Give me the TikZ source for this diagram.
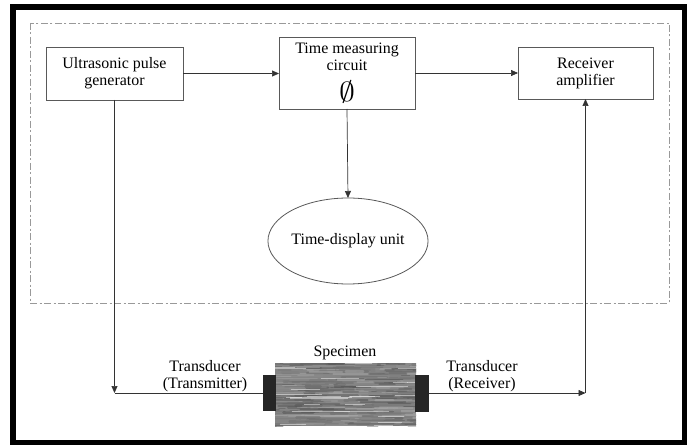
\documentclass[tikz,border=0pt]{standalone}
\usepackage{fontspec}
\setmainfont{Liberation Serif}
\usetikzlibrary{arrows.meta,shapes.geometric}
\begin{document}
\begin{tikzpicture}[x=1bp,y=-1bp,
  every node/.style={font=\fontsize{16}{17}\selectfont, text=black},
  blockbox/.style={draw=black!65, line width=0.8bp, inner sep=0pt, outer sep=0pt, align=center},
  blockpad/.style={fill=black!85, inner sep=0pt, outer sep=0pt},
  conn/.style={draw=black!80, line width=0.7bp},
  arrowtip/.style={-{Triangle[length=7bp,width=6bp]}},
]
\useasboundingbox (0,0) rectangle (690,445);
\fill[white] (0,0) rectangle (690,445);
% outer frame
\draw[line width=5.5bp] (13,7) rectangle (684.5,442.5);
% dashed enclosure
\draw[black!40, line width=0.8bp, dash pattern=on 7bp off 2.5bp on 2bp off 2.5bp] (30,23) rectangle (669,303);

% blocks
\node[blockbox, minimum width=137bp, minimum height=53bp] (gen) at (114.5,73.5) {Ultrasonic pulse\\generator};
\node[blockbox, minimum width=136bp, minimum height=72bp] (tmc) at (347,73) {Time measuring\\circuit\\[9bp]\scalebox{1.85}[1.6]{$\emptyset$}};
\node[blockbox, minimum width=135bp, minimum height=52bp] (rcv) at (585.5,73) {Receiver\\amplifier};
\node[blockbox, ellipse, minimum width=136bp, minimum height=86bp] (disp) at (348,241) {Time-display unit};

% specimen
\node[fill=black!48, inner sep=0pt, outer sep=0pt, minimum width=141bp, minimum height=63bp] (spec) at (345.5,394.5) {};
\begin{scope}
\clip (spec.north west) rectangle (spec.south east);
\pgfmathsetseed{7}
\foreach \i in {1,...,420}{
  \pgfmathsetmacro{\yy}{363+63*rnd}
  \pgfmathsetmacro{\xx}{260+155*rnd}
  \pgfmathsetmacro{\ll}{6+40*rnd}
  \pgfmathsetmacro{\sh}{32+36*rnd}
  \pgfmathsetmacro{\lw}{0.8+2.2*rnd}
  \draw[black!\sh, line width=\lw bp, line cap=round, opacity=0.55] (\xx,\yy) -- ++(\ll,0);
}
\foreach \i in {1,...,25}{
  \pgfmathsetmacro{\yy}{363+63*rnd}
  \pgfmathsetmacro{\xx}{260+155*rnd}
  \pgfmathsetmacro{\ll}{15+50*rnd}
  \draw[white, line width=0.5bp, opacity=0.45] (\xx,\yy) -- ++(\ll,0);
}
\end{scope}
\node[blockpad, minimum width=13bp, minimum height=36bp] (tl) at (269.5,393) {};
\node[blockpad, minimum width=14bp, minimum height=37bp] (tr) at (422,393) {};
\node (spl) at (345,353) {Specimen};
\node[align=center, anchor=south, inner sep=0pt] (ttx) at (205,392) {Transducer\\(Transmitter)};
\node[align=center, anchor=south, inner sep=0pt] (trx) at (482,392) {Transducer\\(Receiver)};

% connectors
\draw[conn, arrowtip] (gen.east) -- (tmc.west |- gen.east);
\draw[conn, arrowtip] (tmc.east) -- (rcv.west);
\draw[conn, arrowtip] (tmc.south) -- (disp.north);
\coordinate (cl) at (gen.south |- tl.west);
\draw[conn, arrowtip] (gen.south) -- (cl);
\draw[conn] (cl) -- (tl.west);
\coordinate (cr) at (rcv.south |- tr.east);
\draw[conn, arrowtip] (tr.east) -- (cr);
\draw[conn, arrowtip] (cr) -- (rcv.south);
\end{tikzpicture}
\end{document}
